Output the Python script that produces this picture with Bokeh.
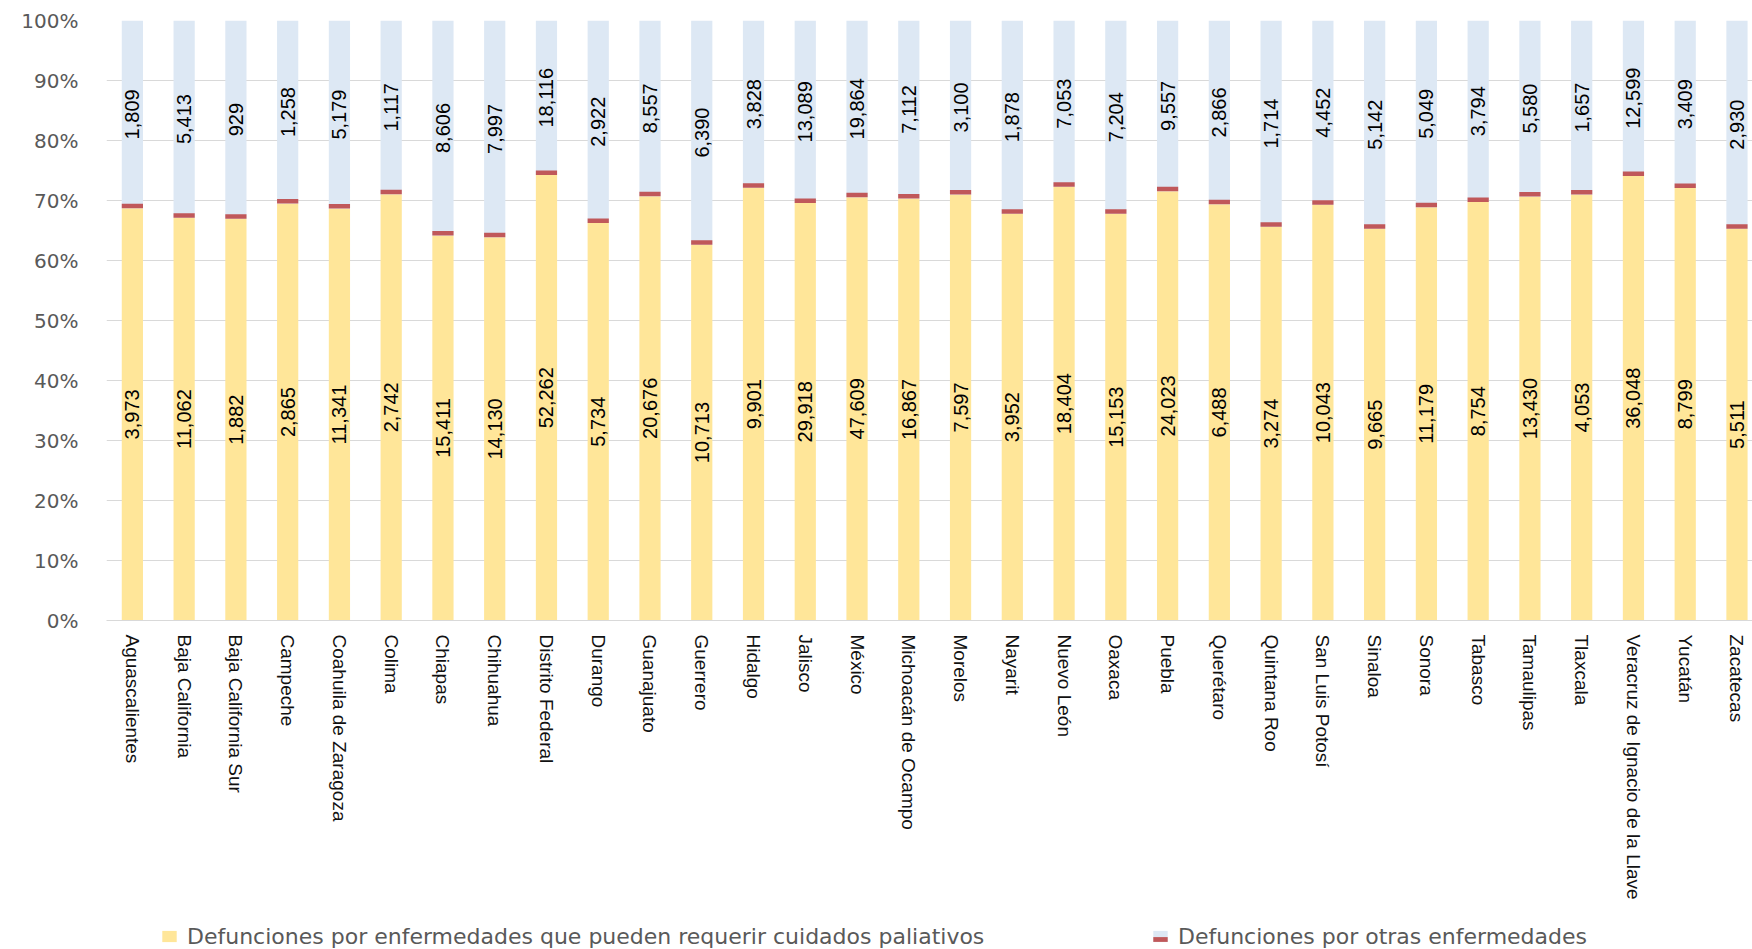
import math
from bokeh.plotting import figure
from bokeh.layouts import column
from bokeh.models import (ColumnDataSource, FixedTicker, NumeralTickFormatter,
                          Legend, LegendItem, Range1d)
from bokeh.embed import file_html
from bokeh.resources import INLINE
from bokeh.core.properties import value

# ---------------- data ----------------
estados = [
    "Aguascalientes", "Baja California", "Baja California Sur", "Campeche",
    "Coahuila de Zaragoza", "Colima", "Chiapas", "Chihuahua", "Distrito Federal",
    "Durango", "Guanajuato", "Guerrero", "Hidalgo", "Jalisco", "México",
    "Michoacán de Ocampo", "Morelos", "Nayarit", "Nuevo León", "Oaxaca", "Puebla",
    "Querétaro", "Quintana Roo", "San Luis Potosí", "Sinaloa", "Sonora", "Tabasco",
    "Tamaulipas", "Tlaxcala", "Veracruz de Ignacio de la Llave", "Yucatán", "Zacatecas",
]
paliativos = [
    3973, 11062, 1882, 2865, 11341, 2742, 15411, 14130, 52262, 5734, 20676, 10713,
    9901, 29918, 47609, 16867, 7597, 3952, 18404, 15153, 24023, 6488, 3274, 10043,
    9665, 11179, 8754, 13430, 4053, 36048, 8799, 5511,
]
otras = [
    1809, 5413, 929, 1258, 5179, 1117, 8606, 7997, 18116, 2922, 8557, 6390,
    3828, 13089, 19864, 7112, 3100, 1878, 7053, 7204, 9557, 2866, 1714, 4452,
    5142, 5049, 3794, 5580, 1657, 12599, 3409, 2930,
]
y_ticks = [0.0, 0.1, 0.2, 0.3, 0.4, 0.5, 0.6, 0.7, 0.8, 0.9, 1.0]
serie_pal = "Defunciones por enfermedades que pueden requerir cuidados paliativos"
serie_otr = "Defunciones por otras enfermedades"

# ---------------- styling ----------------
YELLOW = "#FFE699"
BLUE = "#DDE8F4"
RED = "#C0585A"
GRID = "#D9D9D9"
LABEL_FONT = "Liberation Sans"
RED_STRIP = 0.0075
BAR_W = 0.41
W = 1752
MAIN_H = 919
LEG_H = 30
FRAME_LEFT = 106

n = len(estados)
idx = list(range(n))
share = [p / (p + o) for p, o in zip(paliativos, otras)]

src = ColumnDataSource(dict(
    x=idx,
    zero=[0.0] * n,
    one=[1.0] * n,
    pal=share,
    red_top=[s + RED_STRIP for s in share],
    pal_mid=[s / 2 for s in share],
    otr_mid=[(1 + s) / 2 for s in share],
    pal_lbl=[f"{v:,}" for v in paliativos],
    otr_lbl=[f"{v:,}" for v in otras],
))

p = figure(width=W, height=MAIN_H, output_backend="svg", toolbar_location=None,
           x_range=Range1d(-0.5, 31.3), y_range=Range1d(0, 1),
           min_border_left=FRAME_LEFT, min_border_right=0, min_border_top=20,
           min_border_bottom=MAIN_H - 620)
p.outline_line_color = None
p.background_fill_color = "white"

p.vbar(x="x", width=BAR_W, bottom="zero", top="pal", source=src,
       fill_color=YELLOW, line_color=None)
p.vbar(x="x", width=BAR_W, bottom="pal", top="one", source=src,
       fill_color=BLUE, line_color=None)
p.vbar(x="x", width=BAR_W, bottom="pal", top="red_top", source=src,
       fill_color=RED, line_color=None)

for ycol, tcol in (("pal_mid", "pal_lbl"), ("otr_mid", "otr_lbl")):
    p.text(x="x", y=ycol, text=tcol, source=src, angle=math.pi / 2,
           text_align="center", text_baseline="middle",
           text_font=value(LABEL_FONT), text_font_size="20px", text_color="#000000")

# axes
p.xaxis.ticker = FixedTicker(ticks=idx)
p.xaxis.major_label_overrides = {i: name for i, name in enumerate(estados)}
p.xaxis.major_label_orientation = "vertical"
p.xaxis.major_tick_line_color = None
p.xaxis.major_tick_out = 0
p.xaxis.major_tick_in = 0
p.xaxis.minor_tick_line_color = None
p.xaxis.axis_line_color = GRID
p.xaxis.major_label_text_font = LABEL_FONT
p.xaxis.major_label_text_font_size = "19px"
p.xaxis.major_label_text_color = "#111111"
p.xaxis.major_label_standoff = 14

p.yaxis.ticker = FixedTicker(ticks=y_ticks)
p.yaxis.formatter = NumeralTickFormatter(format="0%")
p.yaxis.axis_line_color = None
p.yaxis.major_tick_line_color = None
p.yaxis.major_tick_out = 0
p.yaxis.major_tick_in = 0
p.yaxis.minor_tick_line_color = None
p.yaxis.major_label_text_font = "DejaVu Sans"
p.yaxis.major_label_text_font_size = "20px"
p.yaxis.major_label_text_color = "#595959"
p.yaxis.major_label_standoff = 28

p.xgrid.visible = False
p.ygrid.ticker = FixedTicker(ticks=y_ticks)
p.ygrid.grid_line_color = GRID
p.ygrid.grid_line_width = 1

# ---------------- legend strip ----------------
lg = figure(width=W, height=LEG_H, output_backend="svg", toolbar_location=None,
            x_axis_type=None, y_axis_type=None,
            x_range=Range1d(0, 1), y_range=Range1d(0, 1),
            min_border_left=FRAME_LEFT, min_border_right=0, min_border_top=0,
            min_border_bottom=0)
lg.outline_line_color = None
lg.xgrid.visible = False
lg.ygrid.visible = False

# legend-only renderers (placed outside the visible range)
swatch = ColumnDataSource(dict(x=[-10.0], top=[-10.0]))
g_pal = lg.vbar(x="x", top="top", width=1, source=swatch, fill_color=YELLOW, line_color=None)
g_otr = lg.vbar(x="x", top="top", width=1, source=swatch, fill_color=BLUE, line_color=None)
g_red = lg.vbar(x="x", top="top", width=1, source=swatch, fill_color=RED, line_color=None)


def make_legend(label, renderer, loc, gh=14, lh=26, fs="22px"):
    return Legend(items=[LegendItem(label=label, renderers=[renderer], index=0)],
                  location=loc, orientation="horizontal",
                  glyph_width=18, glyph_height=gh, label_standoff=9,
                  label_height=lh, padding=0, margin=0, spacing=0,
                  border_line_color=None, background_fill_alpha=0,
                  label_text_font="DejaVu Sans", label_text_font_size=fs,
                  label_text_color="#595959")


lg.add_layout(make_legend(serie_pal, g_pal, (160 - FRAME_LEFT, 0)), "center")
lg.add_layout(make_legend(serie_otr, g_otr, (1151 - FRAME_LEFT, 0)), "center")
lg.add_layout(make_legend("", g_red, (1151 - FRAME_LEFT, 7), gh=6, lh=6, fs="1px"), "center")

open("out.html", "w").write(file_html(column(p, lg, spacing=0), INLINE))
